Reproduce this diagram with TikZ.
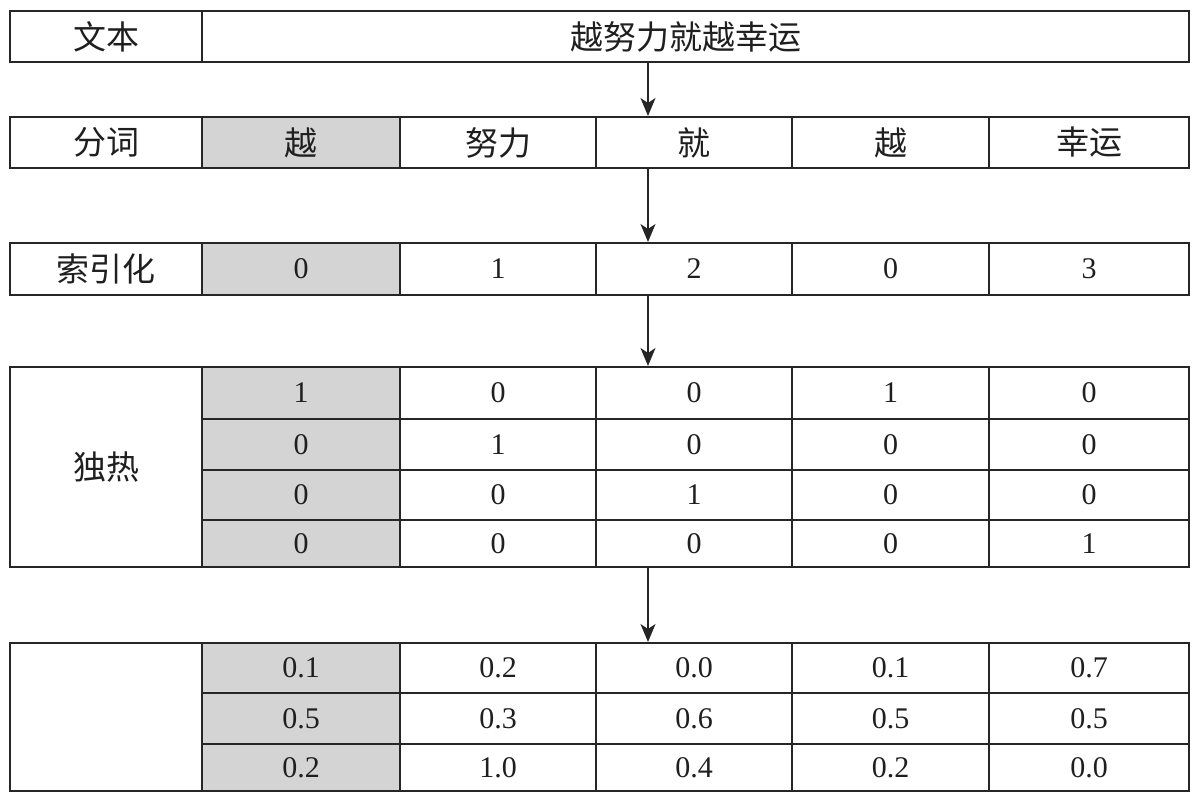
\documentclass[tikz,border=0pt]{standalone}
\usepackage{fontspec}
\setmainfont{Liberation Serif}
\newfontfamily\cjkf{Noto Sans CJK SC}
\newcommand\cjk{\fontsize{16.5}{19}\cjkf}
\usetikzlibrary{arrows.meta}
\newcommand\cellnode[7]{\node[cellbox,#6,minimum width={(#4-#2)*0.5pt},minimum height={(#5-#3)*0.5pt}] (#1) at ({(#2+#4)/2},{(#3+#5)/2}) {#7};}
\newcommand\hrow[8]{%
 \cellnode{#1a}{202}{#2}{400}{#3}{hi}{#4}
 \cellnode{#1b}{400}{#2}{596}{#3}{plain}{#5}
 \cellnode{#1c}{596}{#2}{792}{#3}{plain}{#6}
 \cellnode{#1d}{792}{#2}{989}{#3}{plain}{#7}
 \cellnode{#1e}{989}{#2}{1189}{#3}{plain}{#8}}
\begin{document}
\begin{tikzpicture}[x=0.5pt,y=-0.5pt,
 cellbox/.style={draw=black!85, line width=1pt, inner sep=0pt, font=\fontsize{15}{18}\selectfont, text=black!88},
 hi/.style={fill=black!17},
 plain/.style={},
 conn/.style={draw=black!85, line width=0.8pt, -{Stealth[length=9pt,width=7.5pt,inset=2.5pt]}}]
\useasboundingbox (0,0) rectangle (1200,800);
\coordinate (ax) at (648,0);
% row 1
\cellnode{t0}{10}{11}{202}{62}{plain}{\cjk 文本}
\cellnode{t1}{202}{11}{1189}{62}{plain}{}
\node[font=\cjk, text=black!88] (t1txt) at ([xshift=-5pt]t1.center) {越努力就越幸运};
% row 2
\cellnode{w0}{10}{117}{202}{168}{plain}{\cjk 分词}
\hrow{w}{117}{168}{\cjk 越}{\cjk 努力}{\cjk 就}{\cjk 越}{\cjk 幸运}
% row 3
\cellnode{i0}{10}{243}{202}{295}{plain}{\cjk 索引化}
\hrow{i}{243}{295}{0}{1}{2}{0}{3}
% one-hot
\cellnode{h0}{10}{367}{202}{567}{plain}{\cjk 独热}
\hrow{hA}{367}{419}{1}{0}{0}{1}{0}
\hrow{hB}{419}{470}{0}{1}{0}{0}{0}
\hrow{hC}{470}{520}{0}{0}{1}{0}{0}
\hrow{hD}{520}{567}{0}{0}{0}{0}{1}
% embedding
\cellnode{e0}{10}{643}{202}{791}{plain}{}
\hrow{eA}{643}{693}{0.1}{0.2}{0.0}{0.1}{0.7}
\hrow{eB}{693}{744}{0.5}{0.3}{0.6}{0.5}{0.5}
\hrow{eC}{744}{791}{0.2}{1.0}{0.4}{0.2}{0.0}
% connectors
\draw[conn] (t1.south -| ax) -- (wc.north -| ax);
\draw[conn] (wc.south -| ax) -- (ic.north -| ax);
\draw[conn] (ic.south -| ax) -- (hAc.north -| ax);
\draw[conn] (hDc.south -| ax) -- (eAc.north -| ax);
\end{tikzpicture}
\end{document}
